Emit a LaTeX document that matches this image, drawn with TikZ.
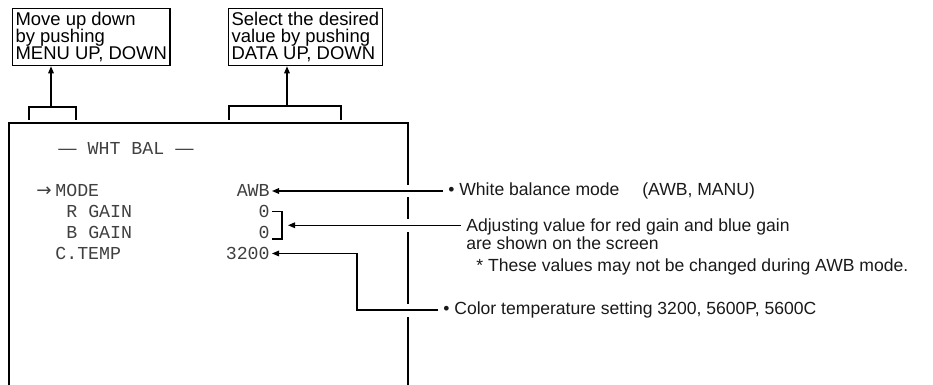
\documentclass[tikz,border=0pt]{standalone}
\usepackage{fontspec}
\setmainfont{Liberation Sans}
\newfontfamily\scrfont{Liberation Mono}
\newfontfamily\symfont{DejaVu Sans}
\usetikzlibrary{arrows.meta,positioning,calc}
\lineskiplimit=-20pt
\newcommand{\boxfont}{\fontsize{10.5}{9.5}\selectfont}
\newcommand{\lblfont}{\fontsize{10}{12}\selectfont}
\newcommand{\scrsize}{\fontsize{10.4}{12}\selectfont}

\begin{document}
\begin{tikzpicture}[
  x=0.02cm, y=-0.02cm,
  thinline/.style={line width=0.024cm},
  frame/.style={line width=0.046cm},
  callout/.style={draw, thinline, anchor=north west, align=left, inner xsep=0.06cm, inner ysep=0.08cm, font=\boxfont},
  scr/.style={inner xsep=0.04cm, inner ysep=0pt, font=\scrfont\scrsize, text=black!75},
  lbl/.style={inner xsep=0.1cm, inner ysep=0pt, font=\lblfont, text=black!90},
  arrow/.style={-{Triangle[length=4pt,width=3.2pt]}, thinline},
  xarrow/.style={arrow, preaction={draw=white, line width=0.26cm, -}}
]
\useasboundingbox (0,0) rectangle (933,385);

% callout boxes above the screen
\node[callout] (menubox) at (12,8) {Move up down\\by pushing\\MENU UP, DOWN};
\node[callout] (databox) at (228,8) {Select the desired\\value by pushing\\DATA UP, DOWN};

% screen frame, open at the bottom
\draw[frame] (9,385) -- (9,123) -- (408,123) -- (408,385);

% brackets on top of the frame
\coordinate (menubr) at (51,107);
\coordinate (databr) at (287,106);
\draw[thinline] (29,120) |- (76,107) -- (76,120);
\draw[thinline] (229,120) |- (341,106) -- (341,120);
\draw[arrow] (menubr) -- (menubr |- menubox.south);
\draw[arrow] (databr) -- (databr |- databox.south);

% screen text
\node[scr, anchor=base west] (title) at (56,154) {{\rmfamily—}\ WHT BAL\ {\rmfamily—}};
\node[scr, anchor=base west] (cursor) at (34,196.5) {\symfont →};
\node[scr, anchor=base west] (mode) at (53,196.5) {MODE};
\node[scr, anchor=base west] (rgain) at (64,217.5) {R GAIN};
\node[scr, anchor=base west] (bgain) at (64,238.5) {B GAIN};
\node[scr, anchor=base west] (ctemp) at (53,259.5) {C.TEMP};
\node[scr, anchor=base east] (awb) at (272,196.5) {AWB};
\node[scr, anchor=base east] (rval) at (272,217.5) {0};
\node[scr, anchor=base east] (bval) at (272,238.5) {0};
\node[scr, anchor=base east] (tval) at (272,259.5) {3200};

% bracket round the gain values
\draw[thinline] (rval.east) -- ++(10,0) |- (bval.south east);
\coordinate (gaintip) at ($(rval.east)!0.5!(bval.south east)+(16,0)$);

% labels
\node[lbl, anchor=west] (awblbl) at (443,191) {• White balance mode\hspace{1.3em}(AWB, MANU)};
\node[lbl, anchor=base west] (gainlbl) at (461,231) {Adjusting value for red gain and blue gain};
\node[lbl, anchor=base west] (gainlbl2) at (461,249) {are shown on the screen};
\node[lbl, anchor=base west] (note) at (471,271) {* These values may not be changed during AWB mode.};
\node[lbl, anchor=west] (templbl) at (438,310) {• Color temperature setting 3200, 5600P, 5600C};

% connectors
\draw[xarrow] (awblbl.west) -- (awblbl.west -| awb.east);
\draw[xarrow] (gainlbl.west |- gaintip) -- (gaintip);
\coordinate (tempbend) at ($(tval.east)+(85,0)$);
\draw[xarrow] (templbl.west) -| (tempbend) -- (tval.east);
\end{tikzpicture}
\end{document}
